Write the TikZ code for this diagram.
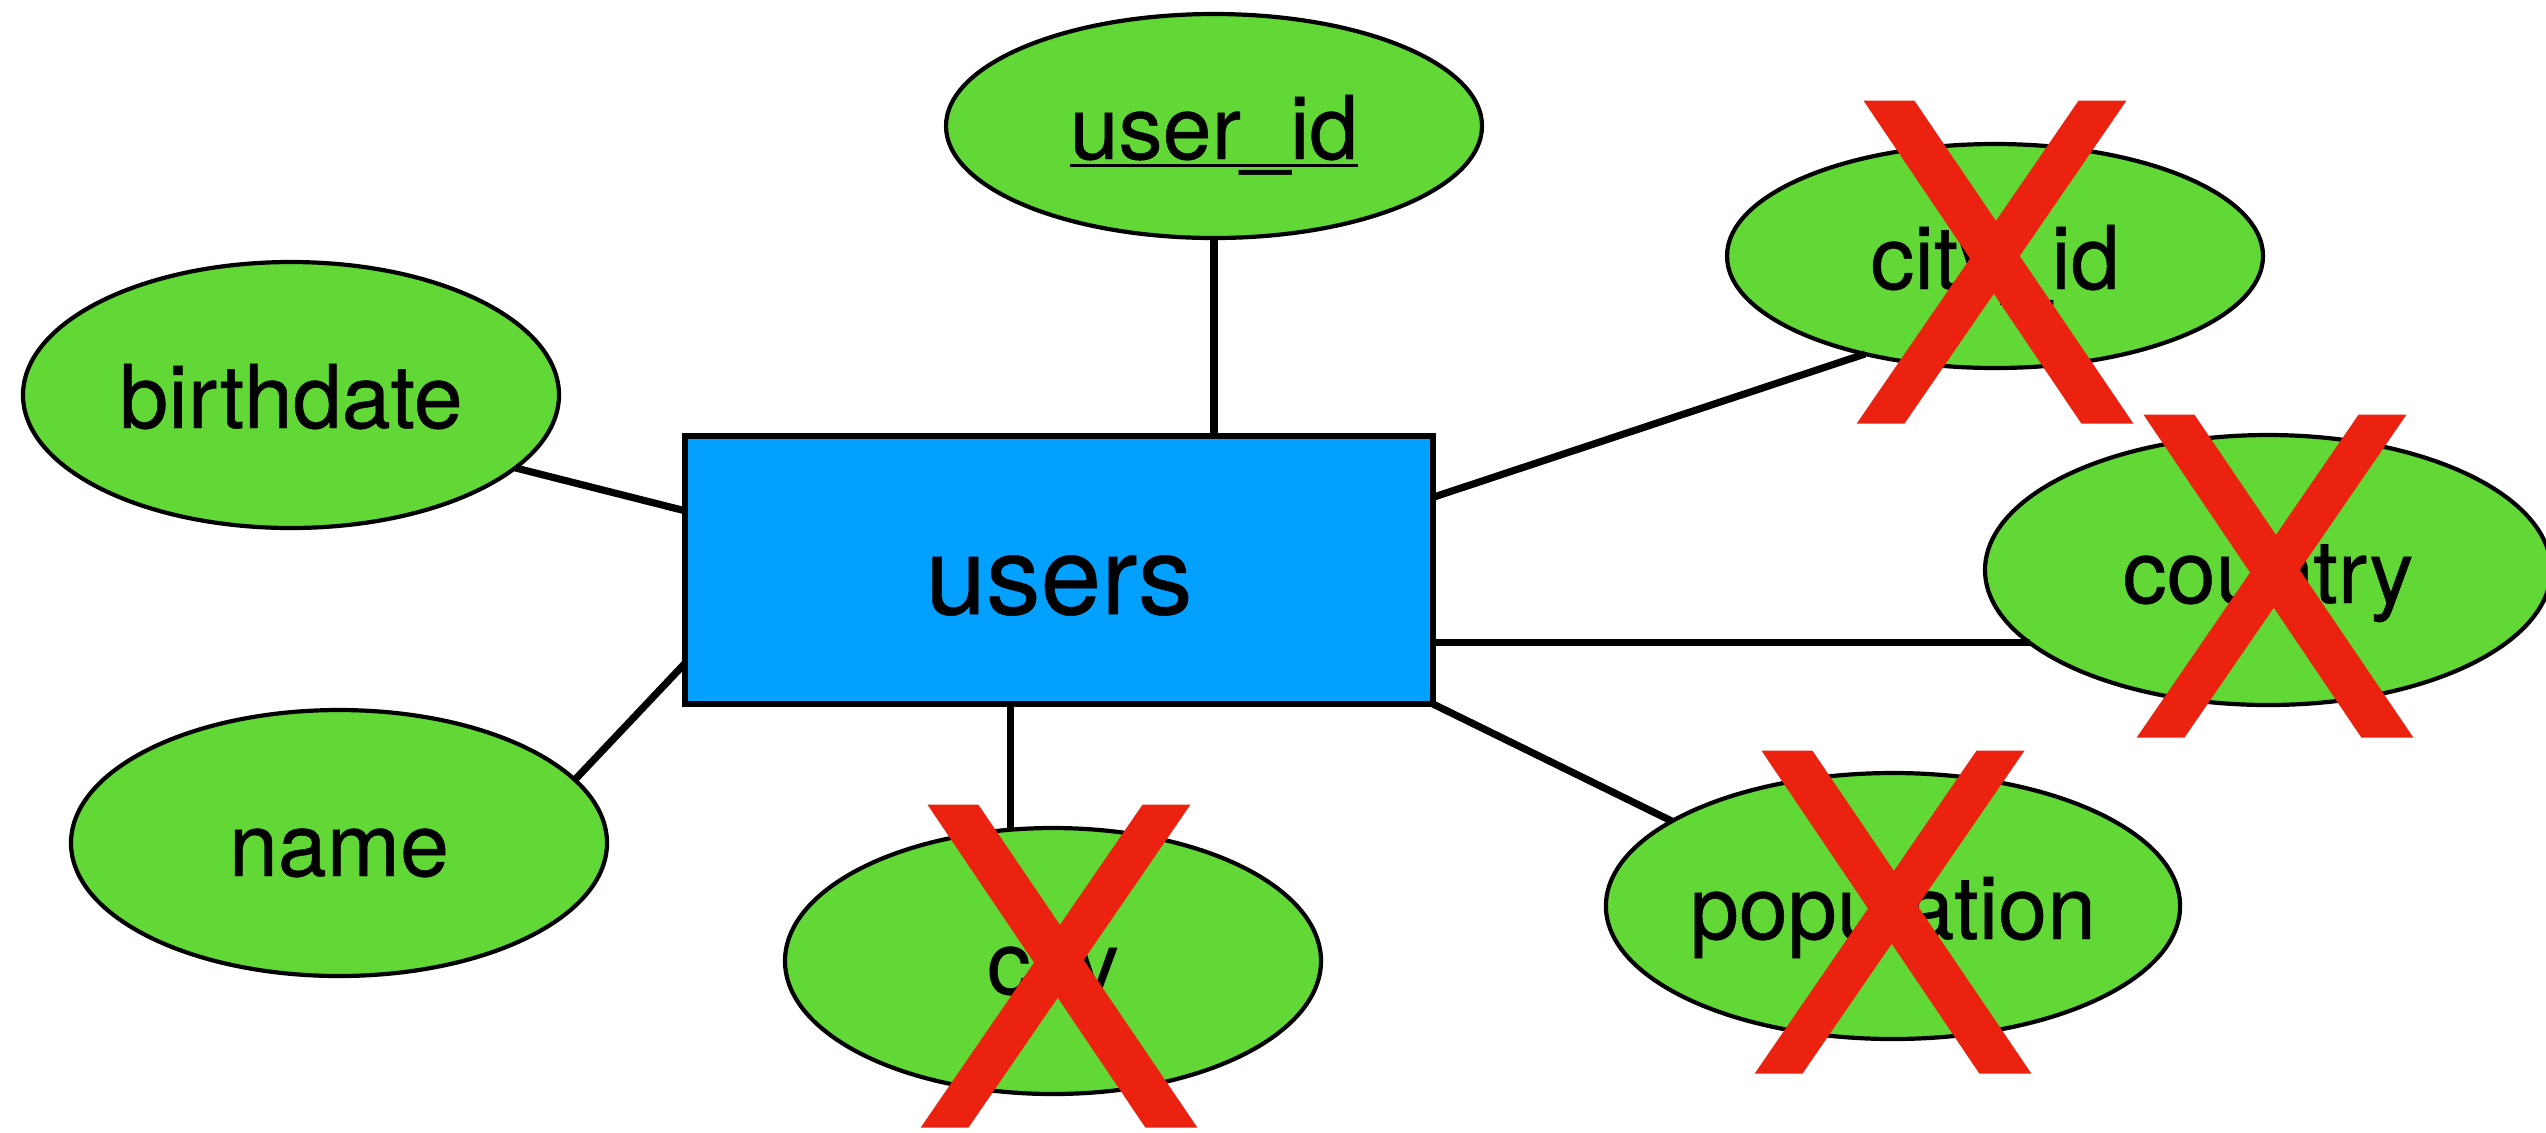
\documentclass[tikz,border=0pt]{standalone}
\usepackage{fontspec}
\setmainfont{TeX Gyre Heros}[FakeBold=0.5]
\usetikzlibrary{shapes.geometric}

\definecolor{attrgreen}{RGB}{97,216,54}
\definecolor{entityblue}{RGB}{2,161,255}
\definecolor{strikered}{RGB}{236,34,16}

% key attribute: text with a solid rule underneath
\newcommand\keyattr[1]{\setbox0\hbox{#1}\rlap{\rule[-4.1pt]{\wd0}{1.6pt}}\box0}

\tikzset{
  attr/.style={ellipse, draw=black, line width=2.1pt, fill=attrgreen,
    inner sep=0pt, outer sep=0pt, text height=33pt, text depth=0pt,
    font=\fontsize{44}{50}\selectfont},
  entity/.style={rectangle, draw=black, line width=2.8pt, fill=entityblue,
    inner sep=0pt, outer sep=0pt, minimum width=374pt, minimum height=134pt,
    text height=44pt, text depth=0pt, font=\fontsize{54.5}{60}\selectfont},
  link/.style={draw=black, line width=3.6pt},
  strikemark/.pic={
    \fill[strikered] (-131.6,-161.5) -- (-80.7,-161.5) -- (138.3,161.5) -- (86.3,161.5) -- cycle;
    \fill[strikered] (83.6,-161.5) -- (131.5,-161.5) -- (-90.5,161.5) -- (-138.3,161.5) -- cycle;
  }
}

\begin{document}
\begin{tikzpicture}[x=0.5pt,y=-0.5pt]
  \path[use as bounding box] (0,0) rectangle (2546,1132);
  \clip (0,0) rectangle (2546,1132);

  % entity
  \node[entity] (users) at (1059,570) {users};

  % attributes
  \node[attr, minimum width=268pt, minimum height=112pt] (uid) at (1214,126) {\keyattr{user\_id}};
  \node[attr, minimum width=268pt, minimum height=112pt] (cid) at (1995,256) {city\_id};
  \node[attr, minimum width=268pt, minimum height=133pt] (bd) at (291,395) {birthdate};
  \node[attr, minimum width=268pt, minimum height=133pt] (nm) at (339,843) {name};
  \node[attr, minimum width=268pt, minimum height=133pt] (city) at (1053,961) {city};
  \node[attr, minimum width=283pt, minimum height=135pt] (country) at (2268,570) {country};
  \node[attr, minimum width=287pt, minimum height=133pt] (pop) at (1893,906) {population};

  % connectors
  \draw[link] (users.north -| uid.south) -- (uid.south);
  \draw[link] (users.171.63) -- (bd.-18.28);
  \draw[link] (users.194.83) -- (nm.15.11);
  \draw[link] (users.250.67) -- (users.250.67 |- city.north);
  \draw[link] (users.11.52) -- (cid.217.5);
  \draw[link] (country.197.26 -| users.east) -- (country.197.26);
  \draw[link] (users.south east) -- (pop.159.44);

  % removed attributes
  \pic at (1995,262) {strikemark};
  \pic at (2275,576) {strikemark};
  \pic at (1893,912) {strikemark};
  \pic at (1059,966) {strikemark};
\end{tikzpicture}
\end{document}
